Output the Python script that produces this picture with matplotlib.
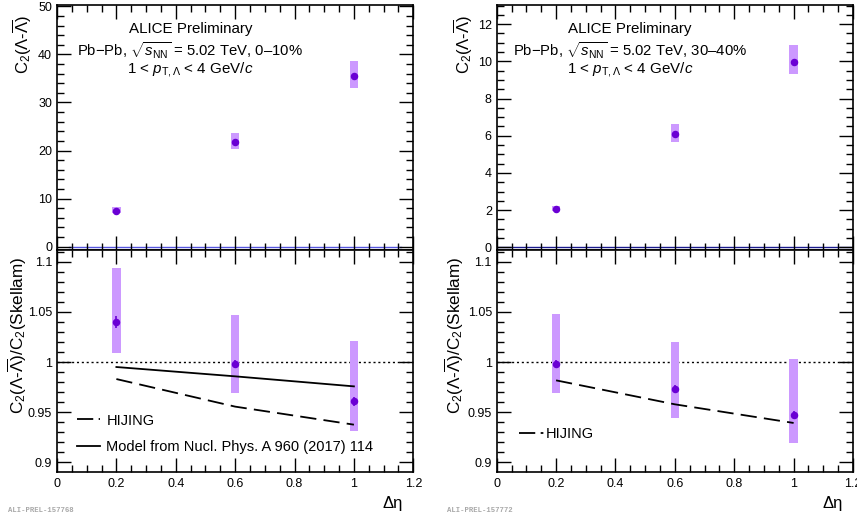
import numpy as np
import matplotlib
matplotlib.use("Agg")
import matplotlib.pyplot as plt
from matplotlib.patches import Rectangle
from matplotlib.ticker import MultipleLocator, FixedLocator, FuncFormatter
from matplotlib.lines import Line2D

plt.rcParams['font.family'] = ['Liberation Sans', 'DejaVu Sans']
plt.rcParams['mathtext.fontset'] = 'custom'
plt.rcParams['mathtext.rm'] = 'Liberation Sans'
plt.rcParams['mathtext.it'] = 'Liberation Sans:italic'
plt.rcParams['mathtext.bf'] = 'Liberation Sans:bold'

# ---------------- data ----------------
deta = [0.2, 0.6, 1.0]

# 0-10 %
c2_010 = [7.5, 21.8, 35.4]
c2_010_sys_lo = [7.0, 20.3, 33.1]
c2_010_sys_hi = [8.3, 23.7, 38.6]
ratio_010 = [1.040, 0.998, 0.961]
ratio_010_stat = [0.006, 0.004, 0.0045]
ratio_010_sys_lo = [1.009, 0.969, 0.931]
ratio_010_sys_hi = [1.094, 1.047, 1.021]
hijing_010 = [0.983, 0.9555, 0.9375]
model_010 = [0.995, 0.9857, 0.9757]

# 30-40 %
c2_3040 = [2.08, 6.07, 9.98]
c2_3040_sys_lo = [1.93, 5.68, 9.31]
c2_3040_sys_hi = [2.24, 6.61, 10.9]
ratio_3040 = [0.998, 0.9728, 0.9475]
ratio_3040_stat = [0.004, 0.004, 0.004]
ratio_3040_sys_lo = [0.9694, 0.9445, 0.9196]
ratio_3040_sys_hi = [1.0475, 1.0196, 1.003]
hijing_3040 = [0.9817, 0.9578, 0.9392]

centralities = ["0\u201310%", "30\u201340%"]
prel_ids = ["ALI-PREL-157768", "ALI-PREL-157772"]

MARK = '#6a00d4'
BOX = '#cc99ff'

W, H = 857, 520
fig = plt.figure(figsize=(W / 100, H / 100), dpi=100)

def fx(px):
    return px / W

def fy(py):
    return 1 - py / H

panel_left = [57, 496.7]
panel_w = 356.3
top_bottom, top_top = 250, 5
low_bottom, low_top = 472, 250

def style_axis(ax):
    ax.tick_params(which='both', direction='in', top=True, right=True, labelsize=9, width=1.0)
    ax.tick_params(which='major', length=10)
    ax.tick_params(which='minor', length=5)
    for s in ax.spines.values():
        s.set_linewidth(1.2)
    ax.set_xlim(0, 1.2)
    ax.xaxis.set_major_locator(MultipleLocator(0.2))
    ax.xaxis.set_minor_locator(MultipleLocator(0.05))

def sys_boxes(ax, x, lo, hi, hw=0.0145):
    for xi, l, h in zip(x, lo, hi):
        ax.add_patch(Rectangle((xi - hw, l), 2 * hw, h - l, facecolor=BOX, edgecolor='none', zorder=2))

ylab_top = r'C$_2$($\Lambda$-$\overline{\Lambda}$)'
ylab_low = r'C$_2$($\Lambda$-$\overline{\Lambda}$)/C$_2$(Skellam)'

panels = [
    dict(c2=c2_010, lo=c2_010_sys_lo, hi=c2_010_sys_hi, r=ratio_010, rs=ratio_010_stat,
         rlo=ratio_010_sys_lo, rhi=ratio_010_sys_hi, hij=hijing_010, model=model_010,
         ylim=(-0.69, 50.27), major=10, minor=2, zline=(0.04, 1.16), zcol='#5555dd',
         ylt=-0.064, yll=-0.079),
    dict(c2=c2_3040, lo=c2_3040_sys_lo, hi=c2_3040_sys_hi, r=ratio_3040, rs=ratio_3040_stat,
         rlo=ratio_3040_sys_lo, rhi=ratio_3040_sys_hi, hij=hijing_3040, model=None,
         ylim=(-0.145, 13.03), major=2, minor=0.5, zline=(0.0, 1.2), zcol='#1a1a8c',
         ylt=-0.06, yll=-0.085),
]

for i, p in enumerate(panels):
    L = panel_left[i]
    axt = fig.add_axes([fx(L), fy(top_bottom), fx(panel_w), (top_bottom - top_top) / H])
    axl = fig.add_axes([fx(L), fy(low_bottom), fx(panel_w), (low_bottom - low_top) / H])

    # ---- top panel
    style_axis(axt)
    axt.set_ylim(*p['ylim'])
    axt.yaxis.set_major_locator(MultipleLocator(p['major']))
    axt.yaxis.set_minor_locator(MultipleLocator(p['minor']))
    axt.tick_params(labelbottom=False)
    axt.plot(list(p['zline']), [0, 0], color=p['zcol'], lw=1.0, zorder=1)
    sys_boxes(axt, deta, p['lo'], p['hi'])
    axt.plot(deta, p['c2'], 'o', color=MARK, ms=4.4, zorder=4)
    axt.set_ylabel(ylab_top, fontsize=12, loc='top')
    axt.yaxis.set_label_coords(p['ylt'], 0.96)

    cx = 0.374
    axt.text(cx, 0.902, 'ALICE Preliminary', transform=axt.transAxes, ha='center', va='center', fontsize=10.9)
    axt.text(cx, 0.815, r'Pb$-$Pb, $\sqrt{s_{\mathrm{NN}}}$ = 5.02 TeV, ' + centralities[i],
             transform=axt.transAxes, ha='center', va='center', fontsize=10.7)
    axt.text(cx, 0.735, r'1 < $p_{\mathrm{T,\Lambda}}$ < 4 GeV/$c$', transform=axt.transAxes,
             ha='center', va='center', fontsize=10.9)

    # ---- lower panel
    style_axis(axl)
    axl.set_ylim(0.8903, 1.1117)
    axl.yaxis.set_major_locator(FixedLocator([0.9, 0.95, 1.0, 1.05, 1.1]))
    axl.yaxis.set_minor_locator(MultipleLocator(0.01))
    axl.yaxis.set_major_formatter(FuncFormatter(lambda v, pos: ('%.2f' % v).rstrip('0').rstrip('.')))
    axl.xaxis.set_major_formatter(FuncFormatter(lambda v, pos: ('%.1f' % v).rstrip('0').rstrip('.') if abs(v) > 1e-9 else '0'))
    axl.tick_params(axis='x', pad=4)
    axl.axhline(1.0, color='black', lw=1.0, ls=(0, (1.5, 2.0)), zorder=1)
    sys_boxes(axl, deta, p['rlo'], p['rhi'])
    handles = []
    hl, = axl.plot(deta, p['hij'], color='black', lw=1.3, dashes=(9, 4), zorder=3, label='HIJING')
    handles.append(hl)
    if p['model'] is not None:
        ml, = axl.plot(deta, p['model'], color='black', lw=1.3, zorder=3,
                       label='Model from Nucl. Phys. A 960 (2017) 114')
        handles.append(ml)
    axl.errorbar(deta, p['r'], yerr=p['rs'], fmt='o', color=MARK, ms=4.4, elinewidth=1.2, capsize=0, zorder=4)
    axl.set_ylabel(ylab_low, fontsize=12.3, loc='top')
    axl.yaxis.set_label_coords(p['yll'], 0.97)
    axl.set_xlabel('\u0394\u03b7', fontsize=12, loc='right')
    axl.xaxis.set_label_coords(1.0 - 0.028, -0.11)

    hleg = Line2D([], [], color='black', lw=1.3, dashes=(9, 3, 1.5, 3))
    if p['model'] is not None:
        axl.legend([hleg, handles[1]], ['HIJING', 'Model from Nucl. Phys. A 960 (2017) 114'],
                   loc='lower left', bbox_to_anchor=(0.04, 0.055), frameon=False, fontsize=10.5,
                   handlelength=1.6, handletextpad=0.4, labelspacing=0.85, borderaxespad=0)
    else:
        axl.legend([hleg], ['HIJING'], loc='lower left', bbox_to_anchor=(0.045, 0.115),
                   frameon=False, fontsize=10.5, handlelength=1.75, handletextpad=0.12, borderaxespad=0)

    fig.text(fx(8 if i == 0 else 447), fy(510), prel_ids[i], fontsize=5.2,
             family=['Liberation Mono', 'DejaVu Sans Mono'], weight='bold', color='#a8a8a8', va='center')

fig.savefig('out.png', dpi=100)
